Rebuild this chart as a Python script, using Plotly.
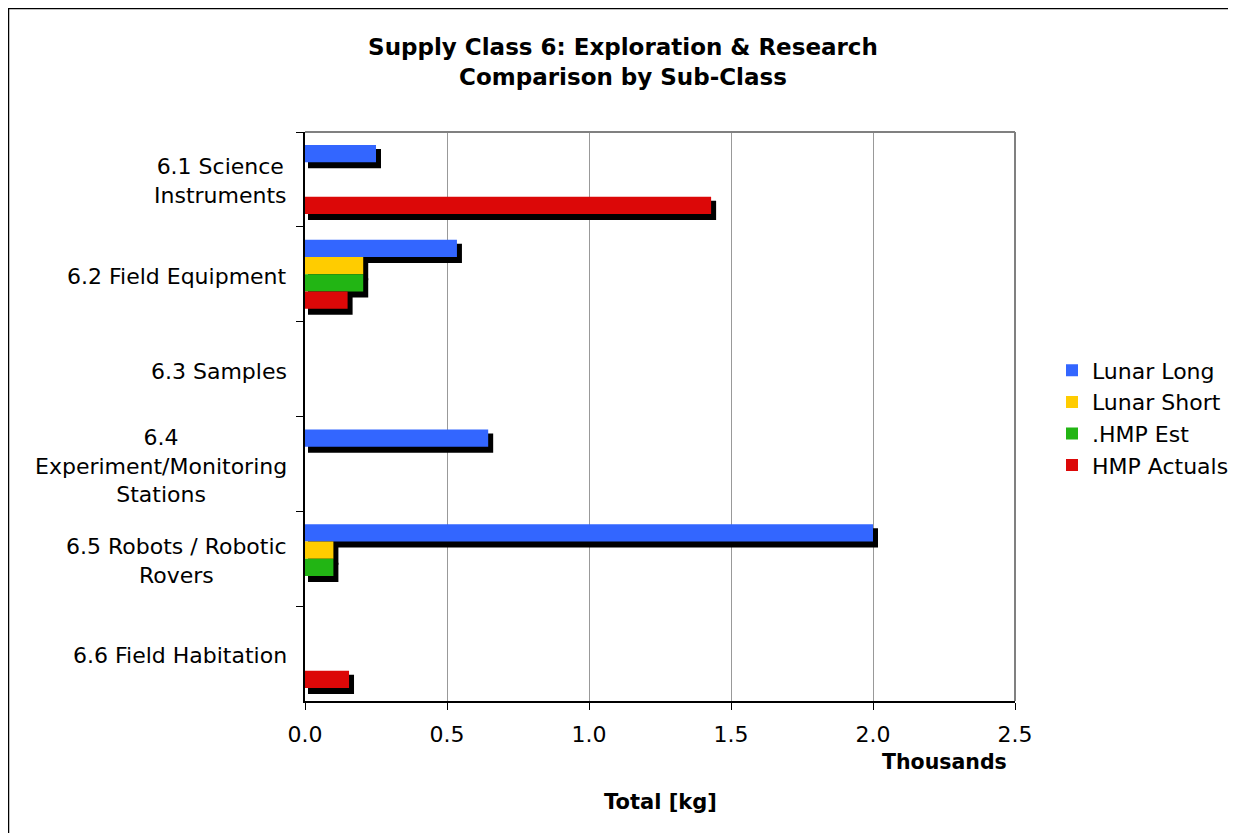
import plotly.graph_objects as go

# ---- data (values in thousands of kg) ----
categories = ["6.1 Science<br>Instruments", "6.2 Field Equipment", "6.3 Samples",
              "6.4<br>Experiment/Monitoring<br>Stations", "6.5 Robots / Robotic<br>Rovers",
              "6.6 Field Habitation"]
series_names = ["Lunar Long", "Lunar Short", ".HMP Est", "HMP Actuals"]
lunar_long = [0.25, 0.535, 0, 0.645, 2.0, 0]
lunar_short = [0, 0.205, 0, 0, 0.10, 0]
hmp_est = [0, 0.205, 0, 0, 0.10, 0]
hmp_actuals = [1.43, 0.15, 0, 0, 0, 0.155]
series_values = [lunar_long, lunar_short, hmp_est, hmp_actuals]
colors = ["#3366FF", "#FFCC00", "#22B514", "#DC0808"]
x_ticks = [0.0, 0.5, 1.0, 1.5, 2.0, 2.5]

# ---- layout geometry (reference pixel coords, page has an 8px body margin) ----
OFF = 8
W, H = 1236 - OFF, 833 - OFF
L, R, T, B = 305 - OFF, 1015 - OFF, 132 - OFF, 701 - OFF
XMAX = 2.5
PX_X = XMAX / (R - L)            # data units per pixel (x)
PX_Y = len(categories) / (B - T)  # category units per pixel (y)
BAR_W = 0.182
GROUP0 = -2 * BAR_W
FONT = "DejaVu Sans"


def px(xr):  # reference x pixel -> paper x
    return (xr - OFF - L) / (R - L)


def py(yr):  # reference y pixel -> paper y
    return (B - (yr - OFF)) / (B - T)


fig = go.Figure()

# shadows first (drawn beneath)
for i, vals in enumerate(series_values):
    off = GROUP0 + i * BAR_W
    fig.add_trace(go.Bar(
        y=categories, x=[v + 2 * PX_X if v > 0 else None for v in vals],
        base=3 * PX_X, orientation="h",
        offset=off + 4 * PX_Y, width=BAR_W + 2 * PX_Y,
        marker=dict(color="black", line=dict(width=0)),
        showlegend=False, hoverinfo="skip"))

for i, (name, vals) in enumerate(zip(series_names, series_values)):
    off = GROUP0 + i * BAR_W
    fig.add_trace(go.Bar(
        y=categories, x=vals, name=name, orientation="h",
        offset=off, width=BAR_W,
        marker=dict(color=colors[i], line=dict(width=0))))

# category labels (centered multi-line, right aligned block like Excel)
annotations = []
for c in categories:
    annotations.append(dict(x=0, xref="paper", y=c, yref="y", text=c,
                            xanchor="right", yanchor="middle", align="center",
                            xshift=-16, yshift=-2, showarrow=False,
                            font=dict(family=FONT, size=22, color="black")))
annotations.append(dict(x=px(1009), xref="paper", y=py(762), yref="paper",
                        text="<b>Thousands</b>", xanchor="right", yanchor="middle",
                        showarrow=False, font=dict(family=FONT, size=20.5, color="black")))
annotations.append(dict(x=0.5, xref="paper", y=py(802), yref="paper",
                        text="<b>Total [kg]</b>", xanchor="center", yanchor="middle",
                        showarrow=False, font=dict(family=FONT, size=21, color="black")))

shapes = [
    dict(type="line", xref="paper", yref="paper", x0=0, x1=1, y0=1, y1=1,
         line=dict(color="#808080", width=2)),
    dict(type="line", xref="paper", yref="paper", x0=1, x1=1, y0=0, y1=1,
         line=dict(color="#808080", width=2)),
    dict(type="rect", xref="paper", yref="paper",
         x0=px(8.5), x1=px(1233), y0=py(850), y1=py(8.5),
         line=dict(color="black", width=1.5), fillcolor="rgba(0,0,0,0)", layer="below"),
]

fig.update_layout(
    width=W, height=H,
    margin=dict(l=L, r=W - R, t=T, b=H - B, autoexpand=False),
    paper_bgcolor="white", plot_bgcolor="white",
    barmode="overlay",
    font=dict(family=FONT, size=22, color="black"),
    title=dict(text="<b>Supply Class 6: Exploration & Research<br>Comparison by Sub-Class</b>",
               x=(623 - OFF) / W, xanchor="center", y=1 - (55 - OFF) / H, yanchor="middle",
               font=dict(family=FONT, size=23, color="black")),
    legend=dict(x=px(1052), xanchor="left", y=py(418), yanchor="middle",
                font=dict(family=FONT, size=22, color="black"), bgcolor="rgba(0,0,0,0)",
                traceorder="normal"),
    xaxis=dict(range=[0, XMAX], tickvals=x_ticks, ticktext=[f"{v:.1f}" for v in x_ticks],
               showgrid=True, gridcolor="#999999", gridwidth=1,
               showline=True, linecolor="black", linewidth=1.5,
               ticks="outside", ticklen=7, tickcolor="black",
               ticklabelstandoff=6,
               tickfont=dict(family=FONT, size=22, color="black"),
               zeroline=False),
    yaxis=dict(type="category", categoryorder="array", categoryarray=categories,
               range=[len(categories) - 0.5, -0.5],
               showticklabels=False, tickson="boundaries",
               ticks="outside", ticklen=7, tickcolor="black",
               showline=True, linecolor="black", linewidth=1.5,
               showgrid=False, zeroline=False),
    annotations=annotations, shapes=shapes,
)

fig.write_html("out.html")
